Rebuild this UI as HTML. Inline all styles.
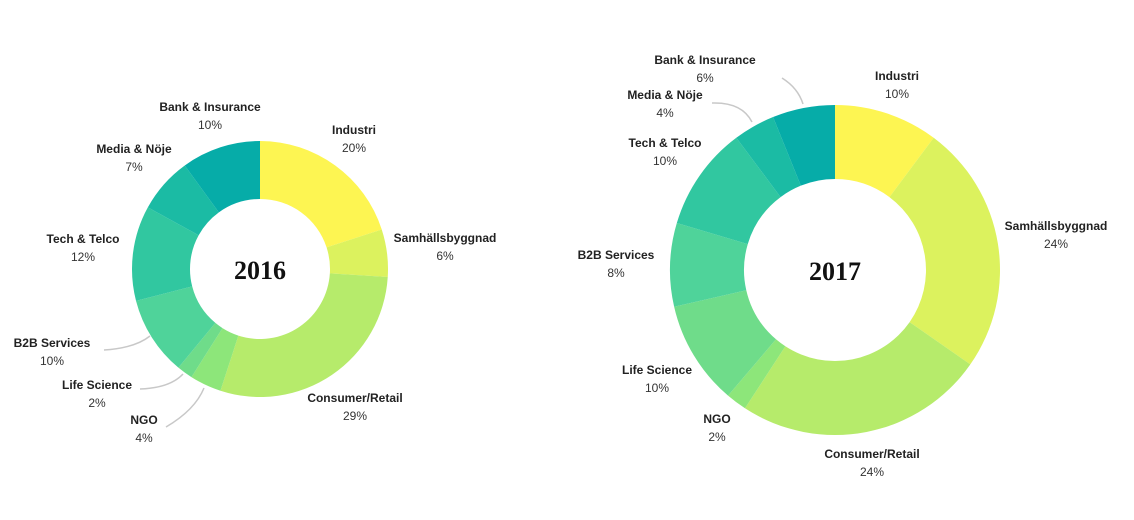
<!DOCTYPE html>
<html><head><meta charset="utf-8"><style>
html,body{margin:0;padding:0;background:#fff;}
svg{display:block;}
.lb{font-family:"Liberation Sans",sans-serif;font-size:12px;font-weight:bold;fill:#222;}
.pc{font-family:"Liberation Sans",sans-serif;font-size:12px;fill:#333;}
.yr{font-family:"Liberation Serif",serif;font-size:26px;font-weight:bold;fill:#111;}
</style></head><body>
<svg id="chart" width="1134" height="520">
<g id="g16"></g>
<g id="g17"></g>
<g fill="none" stroke="#c8c8c8" stroke-width="1.5">
<path d="M104,350 Q135,348 150,336"/>
<path d="M140,389 Q170,388 183,374"/>
<path d="M166,427 Q195,410 204,388"/>
<path d="M712,103 Q742,102 752,122"/>
<path d="M782,78 Q798,88 803,104"/>
</g>
<text class="yr" x="260" y="279" text-anchor="middle">2016</text>
<text class="yr" x="835" y="280" text-anchor="middle">2017</text>
<g id="labels"></g>
</svg>
<script>
const categories=["Industri","Samhällsbyggnad","Consumer/Retail","NGO","Life Science","B2B Services","Tech & Telco","Media & Nöje","Bank & Insurance"];
const values2016=[20,6,29,4,2,10,12,7,10];
const values2017=[10,24,24,2,10,8,10,4,6];
const colors=["#fdf552","#dcf25e","#b6eb6b","#8de67a","#6fdc8a","#4fd39a","#31c7a0","#1bbba4","#06aca8"];
const labels2016=[[354,130],[445,238],[355,398],[144,420],[97,385],[52,343],[83,239],[134,149],[210,107]];
const labels2017=[[897,76],[1056,226],[872,454],[717,419],[657,370],[616,255],[665,143],[665,95],[705,60]];
const NS="http://www.w3.org/2000/svg";
function donut(gid,vals,cx,cy,R,r,year){
  const g=document.getElementById(gid);
  const tot=vals.reduce((a,b)=>a+b,0);
  let a0=0;
  vals.forEach((v,i)=>{
    const a1=a0+v/tot*Math.PI*2;
    const p=(a,rad)=>[cx+rad*Math.sin(a),cy-rad*Math.cos(a)];
    const [x0,y0]=p(a0,R),[x1,y1]=p(a1,R),[x2,y2]=p(a1,r),[x3,y3]=p(a0,r);
    const lg=(a1-a0)>Math.PI?1:0;
    const path=document.createElementNS(NS,"path");
    path.setAttribute("d",`M${x0},${y0}A${R},${R} 0 ${lg} 1 ${x1},${y1}L${x2},${y2}A${r},${r} 0 ${lg} 0 ${x3},${y3}Z`);
    path.setAttribute("fill",colors[i]);
    
    
    g.appendChild(path);
    a0=a1;
  });
}
function labels(vals,pos,year){
  const g=document.getElementById("labels");
  vals.forEach((v,i)=>{
    const t=document.createElementNS(NS,"text");
    t.setAttribute("class","lb");t.setAttribute("x",pos[i][0]);t.setAttribute("y",pos[i][1]+4);
    t.setAttribute("text-anchor","middle");t.textContent=categories[i];
    
    
    g.appendChild(t);
    const p=document.createElementNS(NS,"text");
    p.setAttribute("class","pc");p.setAttribute("x",pos[i][0]);p.setAttribute("y",pos[i][1]+22);
    p.setAttribute("text-anchor","middle");p.textContent=v+"%";
    
    
    g.appendChild(p);
  });
}
donut("g16",values2016,260,269,128,70,"2016");
donut("g17",values2017,835,270,165,91,"2017");
labels(values2016,labels2016,"2016");
labels(values2017,labels2017,"2017");
</script>
</body></html>
